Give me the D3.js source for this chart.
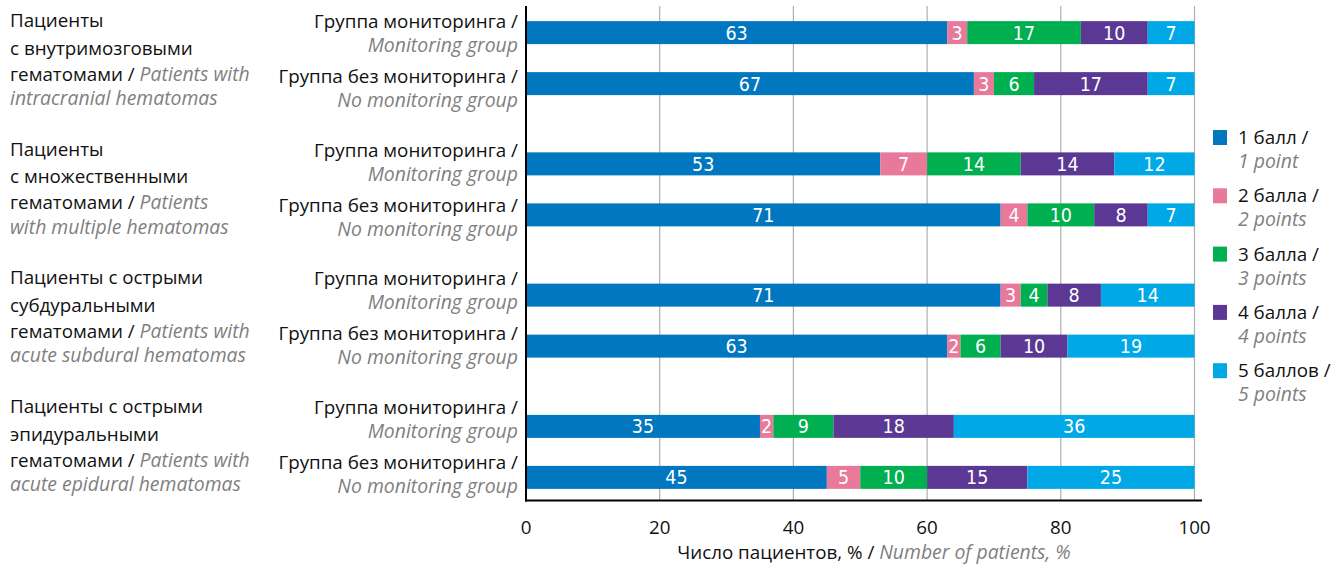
<!DOCTYPE html>
<html>
<head>
<meta charset="utf-8">
<script src="https://cdn.jsdelivr.net/npm/d3@7"></script>
<style>
  body { margin: 0; background: #fff; }
  svg text { font-family: "Open Sans", "Noto Sans", sans-serif; font-size: 18.8px; fill: #111; }
  svg text .gray, svg text.gray { fill: #7f7f7f; font-style: italic; font-size: 19.4px; }
  svg text.num { font-family: "Liberation Sans Narrow", "DejaVu Sans Condensed", sans-serif; font-stretch: condensed; font-size: 19.5px; fill: #fff; }
</style>
</head>
<body>
<svg id="chart" width="1344" height="568"></svg>
<script>
// score categories (legend)
let scores = ["1 балл /", "2 балла /", "3 балла /", "4 балла /", "5 баллов /"];
let scoresEn = ["1 point", "2 points", "3 points", "4 points", "5 points"];
let colors = ["#0077bf", "#e8799b", "#00b050", "#5b3893", "#00a8e6"];

// groups of patients, each line = [russian, english]
let groupIds = ["g1", "g2", "g3", "g4"];
let groupLines = [
    [["Пациенты", ""], ["с внутримозговыми", ""], ["гематомами / ", "Patients with"], ["", "intracranial hematomas"]],
    [["Пациенты", ""], ["с множественными", ""], ["гематомами / ", "Patients"], ["", "with multiple hematomas"]],
    [["Пациенты с острыми", ""], ["субдуральными", ""], ["гематомами / ", "Patients with"], ["", "acute subdural hematomas"]],
    [["Пациенты с острыми", ""], ["эпидуральными", ""], ["гематомами / ", "Patients with"], ["", "acute epidural hematomas"]]
];

let rowIds = ["m", "n"];
let rowLabels = [["Группа мониторинга /", "Monitoring group"], ["Группа без мониторинга /", "No monitoring group"]];

// % of patients per score, per group
let monitoring   = [[63, 3, 17, 10, 7], [53, 7, 14, 14, 12], [71, 3, 4, 8, 14], [35, 2, 9, 18, 36]];
let noMonitoring = [[67, 3, 6, 17, 7], [71, 4, 10, 8, 7], [63, 2, 6, 10, 19], [45, 5, 10, 15, 25]];

let xTicks = [0, 20, 40, 60, 80, 100];

let svg = d3.select("#chart");

let x = d3.scaleLinear().domain([0, 100]).range([526, 1194.5]);
let yGroup = d3.scaleBand().domain(groupIds).range([-7.5, 517.5]);
let yRow = d3.scalePoint().domain(rowIds).range([-25.5, 25.5]);
// text labels sit on a slightly tighter grid than the bars
let yLabel = d3.scalePoint().domain(groupIds).range([28, 414]);
let barH = 23;
let axisY = 500.5, topY = 6;

function rowCenter(gi, ri) {
    return yGroup(groupIds[gi]) + yGroup.bandwidth() / 2 + yRow(rowIds[ri]);
}

// grid lines
svg.append("g").selectAll("line")
    .data(xTicks.slice(1))
    .enter().append("line")
    .attr("x1", d => x(d)).attr("x2", d => x(d))
    .attr("y1", topY).attr("y2", axisY)
    .style("stroke", "#aeaeae").style("stroke-width", 1.2);

// build stacked rows
let rows = [];
groupIds.forEach(function (g, gi) {
    [monitoring[gi], noMonitoring[gi]].forEach(function (vals, ri) {
        let acc = 0;
        vals.forEach(function (v, si) {
            rows.push({gi: gi, ri: ri, si: si, x0: acc, x1: acc + v, v: v});
            acc += v;
        });
    });
});

let segs = svg.append("g").selectAll("g")
    .data(rows)
    .enter().append("g");

segs.append("rect")
    .attr("x", d => x(d.x0))
    .attr("width", d => x(d.x1) - x(d.x0))
    .attr("y", d => rowCenter(d.gi, d.ri) - barH / 2)
    .attr("height", barH)
    .style("fill", d => colors[d.si]);

segs.append("text")
    .attr("class", "num")
    .attr("x", d => (x(d.x0) + x(d.x1)) / 2)
    .attr("y", d => rowCenter(d.gi, d.ri) + 7)
    .attr("text-anchor", "middle")
    .text(d => d.v);

// axes lines
svg.append("line")
    .attr("x1", 526).attr("x2", 526)
    .attr("y1", topY).attr("y2", axisY + 1)
    .style("stroke", "#000").style("stroke-width", 2);
svg.append("line")
    .attr("x1", 525).attr("x2", 1202)
    .attr("y1", axisY).attr("y2", axisY)
    .style("stroke", "#000").style("stroke-width", 2);

// tick labels
svg.append("g").selectAll("text")
    .data(xTicks)
    .enter().append("text")
    .attr("x", d => x(d))
    .attr("y", 534)
    .attr("text-anchor", "middle")
    .text(d => d);

// axis title
let title = svg.append("text")
    .attr("x", 874).attr("y", 559)
    .attr("text-anchor", "middle");
title.append("tspan").text("Число пациентов, % / ");
title.append("tspan").attr("class", "gray").text("Number of patients, %");

// row labels
let rowLineOffsets = [[0, 24], [55, 79]];
groupIds.forEach(function (g, gi) {
    rowIds.forEach(function (r, ri) {
        let ly = yLabel(g);
        svg.append("text")
            .attr("x", 518).attr("y", ly + rowLineOffsets[ri][0])
            .attr("text-anchor", "end")
            .text(rowLabels[ri][0]);
        svg.append("text")
            .attr("class", "gray")
            .attr("x", 518).attr("y", ly + rowLineOffsets[ri][1])
            .attr("text-anchor", "end")
            .text(rowLabels[ri][1]);
    });
});

// group labels
let lineOffsets = [-1, 26.5, 52.5, 77];
groupIds.forEach(function (g, gi) {
    let ly = yLabel(g);
    groupLines[gi].forEach(function (ln, li) {
        let t = svg.append("text")
            .attr("x", 10).attr("y", ly + lineOffsets[li]);
        if (ln[0]) t.append("tspan").text(ln[0]);
        if (ln[1]) t.append("tspan").attr("class", "gray").text(ln[1]);
    });
});

// legend
let legend = svg.append("g").selectAll("g")
    .data(scores)
    .enter().append("g")
    .attr("transform", (d, i) => "translate(0," + (130 + i * 58.3) + ")");
legend.append("rect")
    .attr("x", 1213).attr("y", 0)
    .attr("width", 14).attr("height", 15)
    .style("fill", (d, i) => colors[i]);
legend.append("text")
    .attr("x", 1238).attr("y", 14)
    .text(d => d);
legend.append("text")
    .attr("class", "gray")
    .attr("x", 1238).attr("y", 38)
    .text((d, i) => scoresEn[i]);
</script>
</body>
</html>
